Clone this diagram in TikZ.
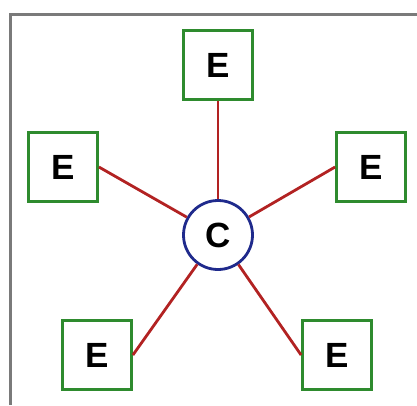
\documentclass[tikz,border=0pt]{standalone}
\usepackage{fontspec}
\setmainfont{Liberation Sans}
\usetikzlibrary{positioning}
\definecolor{boxgreen}{HTML}{2E8B2E}
\definecolor{linkred}{HTML}{B22222}
\definecolor{hubblue}{HTML}{1F2A8C}
\definecolor{framegray}{HTML}{7A7A7A}

\begin{document}
\begin{tikzpicture}[
        x=1pt, y=-1pt,
        ent/.style={rectangle, draw=boxgreen, line width=2.8pt, fill=white,
                    minimum size=69pt, inner sep=0pt, font=\fontsize{35}{40}\selectfont\bfseries},
        hub/.style={circle, draw=hubblue, line width=2.8pt, fill=white,
                    minimum size=69pt, inner sep=0pt, font=\fontsize{35}{40}\selectfont\bfseries},
        link/.style={linkred, line width=2.8pt}
      ]
        \useasboundingbox (0,0) rectangle (417,405);
        \draw[framegray, line width=3pt] (10,405) -- (10,14) -- (417,14);
        % hub and its five entities
        \node[hub] (c) at (218,235) {C};
        \node[ent] (et) at (218,65) {E};
        \node[ent] (el) at (63,167) {E};
        \node[ent] (er) at (371,167) {E};
        \node[ent] (ebl) at (97,355) {E};
        \node[ent] (ebr) at (337,355) {E};
        \draw[link] (et.south) -- (c);
        \draw[link] (el.east) -- (c);
        \draw[link] (er.west) -- (c);
        \draw[link] (ebl.east) -- (c);
        \draw[link] (ebr.west) -- (c);
      \end{tikzpicture}
\end{document}
